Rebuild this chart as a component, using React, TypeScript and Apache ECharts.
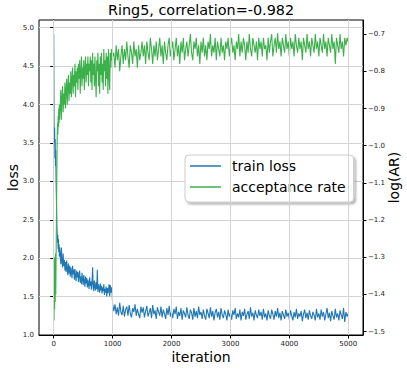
import React, { useEffect, useRef } from "react";
import * as echarts from "echarts";

const iterations = [
  0, 5, 10, 15, 20, 25, 30, 35, 40, 45, 50, 55, 60, 65, 70, 75, 80, 85, 90, 95, 100,
  110, 120, 130, 140, 150, 160, 170, 180, 190, 200,
  210, 220, 230, 240, 250, 260, 270, 280, 290, 300,
  310, 320, 330, 340, 350, 360, 370, 380, 390, 400,
  410, 420, 430, 440, 450, 460, 470, 480, 490, 500,
  510, 520, 530, 540, 550, 560, 570, 580, 590, 600,
  610, 620, 630, 640, 650, 660, 670, 680, 690, 700,
  710, 720, 730, 740, 750, 760, 770, 780, 790, 800,
  810, 820, 830, 840, 850, 860, 870, 880, 890, 900,
  910, 920, 930, 940, 950, 960, 970, 980, 990, 1000,
  1020, 1040, 1060, 1080, 1100, 1120, 1140, 1160, 1180, 1200, 1220, 1240, 1260, 1280, 1300, 1320, 1340, 1360, 1380, 1400, 1420, 1440, 1460, 1480, 1500,
  1520, 1540, 1560, 1580, 1600, 1620, 1640, 1660, 1680, 1700, 1720, 1740, 1760, 1780, 1800, 1820, 1840, 1860, 1880, 1900, 1920, 1940, 1960, 1980, 2000,
  2020, 2040, 2060, 2080, 2100, 2120, 2140, 2160, 2180, 2200, 2220, 2240, 2260, 2280, 2300, 2320, 2340, 2360, 2380, 2400, 2420, 2440, 2460, 2480, 2500,
  2520, 2540, 2560, 2580, 2600, 2620, 2640, 2660, 2680, 2700, 2720, 2740, 2760, 2780, 2800, 2820, 2840, 2860, 2880, 2900, 2920, 2940, 2960, 2980, 3000,
  3020, 3040, 3060, 3080, 3100, 3120, 3140, 3160, 3180, 3200, 3220, 3240, 3260, 3280, 3300, 3320, 3340, 3360, 3380, 3400, 3420, 3440, 3460, 3480, 3500,
  3520, 3540, 3560, 3580, 3600, 3620, 3640, 3660, 3680, 3700, 3720, 3740, 3760, 3780, 3800, 3820, 3840, 3860, 3880, 3900, 3920, 3940, 3960, 3980, 4000,
  4020, 4040, 4060, 4080, 4100, 4120, 4140, 4160, 4180, 4200, 4220, 4240, 4260, 4280, 4300, 4320, 4340, 4360, 4380, 4400, 4420, 4440, 4460, 4480, 4500,
  4520, 4540, 4560, 4580, 4600, 4620, 4640, 4660, 4680, 4700, 4720, 4740, 4760, 4780, 4800, 4820, 4840, 4860, 4880, 4900, 4920, 4940, 4960, 4980, 5000,
];

const trainLoss = [
  4.92, 3.8, 3.5, 3.7, 3.3, 3.55, 3.2, 3.4, 3.0, 2.8, 2.6, 2.4, 2.3, 2.2, 2.3, 2.12, 2.25, 2.08, 2.18, 2.02, 2.14,
  2.05, 1.92, 2.14, 1.96, 1.88, 2.06, 1.9, 1.98, 1.84, 1.95,
  1.82, 1.97, 1.86, 1.78, 1.93, 1.8, 1.9, 1.76, 1.88, 1.82,
  1.74, 1.9, 1.79, 1.85, 1.72, 1.86, 1.77, 1.7, 1.84, 1.75,
  1.82, 1.69, 1.78, 1.84, 1.68, 1.76, 1.66, 1.81, 1.72, 1.65,
  1.78, 1.7, 1.63, 1.76, 1.67, 1.74, 1.62, 1.72, 1.66, 1.6,
  1.75, 1.64, 1.7, 1.59, 1.68, 1.88, 1.62, 1.57, 1.71, 1.63,
  1.58, 1.69, 1.6, 1.85, 1.56, 1.66, 1.61, 1.55, 1.67, 1.58,
  1.64, 1.54, 1.62, 1.57, 1.66, 1.52, 1.6, 1.55, 1.63, 1.5,
  1.61, 1.54, 1.59, 1.66, 1.5, 1.65, 1.55, 1.62, 1.57, 1.4,
  1.31, 1.4, 1.27, 1.36, 1.25, 1.42, 1.3, 1.26, 1.38, 1.24, 1.33, 1.37, 1.25, 1.39, 1.28, 1.23, 1.35, 1.3, 1.4, 1.25, 1.34, 1.27, 1.22, 1.37, 1.29,
  1.36, 1.23, 1.31, 1.38, 1.24, 1.29, 1.35, 1.22, 1.39, 1.27, 1.32, 1.21, 1.36, 1.3, 1.25, 1.37, 1.23, 1.33, 1.28, 1.21, 1.35, 1.26, 1.38, 1.24, 1.3,
  1.22, 1.34, 1.27, 1.37, 1.21, 1.3, 1.25, 1.35, 1.2, 1.32, 1.28, 1.23, 1.36, 1.26, 1.21, 1.33, 1.29, 1.2, 1.35, 1.24, 1.31, 1.22, 1.37, 1.26, 1.3,
  1.21, 1.33, 1.25, 1.2, 1.34, 1.28, 1.22, 1.36, 1.24, 1.31, 1.19, 1.29, 1.34, 1.23, 1.3, 1.2, 1.35, 1.26, 1.22, 1.32, 1.27, 1.19, 1.33, 1.24, 1.29,
  1.2, 1.32, 1.26, 1.35, 1.21, 1.28, 1.23, 1.33, 1.19, 1.3, 1.25, 1.34, 1.2, 1.27, 1.31, 1.21, 1.36, 1.24, 1.29, 1.19, 1.32, 1.26, 1.22, 1.33, 1.25,
  1.3, 1.2, 1.34, 1.23, 1.28, 1.19, 1.32, 1.25, 1.21, 1.33, 1.27, 1.2, 1.31, 1.24, 1.35, 1.22, 1.29, 1.19, 1.31, 1.26, 1.21, 1.33, 1.24, 1.29, 1.2,
  1.32, 1.25, 1.19, 1.3, 1.23, 1.34, 1.21, 1.28, 1.24, 1.31, 1.18, 1.27, 1.33, 1.22, 1.29, 1.2, 1.32, 1.25, 1.21, 1.3, 1.26, 1.19, 1.34, 1.23, 1.28,
  1.2, 1.33, 1.24, 1.3, 1.19, 1.27, 1.35, 1.22, 1.29, 1.18, 1.31, 1.25, 1.2, 1.34, 1.23, 1.28, 1.19, 1.32, 1.26, 1.21, 1.35, 1.17, 1.3, 1.24, 1.28,
];

const logAcceptance = [
  -1.36, -1.47, -1.3, -1.44, -1.32, -1.42, -1.29, -1.4, -1.3, -1.22, -1.12, -1.04, -0.97, -0.94, -0.97, -0.92, -0.95, -0.9, -0.94, -0.89, -0.93,
  -0.9, -0.85, -0.93, -0.87, -0.84, -0.91, -0.86, -0.89, -0.83, -0.9,
  -0.85, -0.82, -0.89, -0.84, -0.81, -0.88, -0.83, -0.86, -0.8, -0.87,
  -0.82, -0.79, -0.86, -0.81, -0.84, -0.78, -0.87, -0.8, -0.83, -0.79,
  -0.85, -0.78, -0.82, -0.77, -0.86, -0.8, -0.76, -0.84, -0.79, -0.82,
  -0.77, -0.85, -0.79, -0.76, -0.83, -0.78, -0.81, -0.76, -0.84, -0.78,
  -0.8, -0.76, -0.83, -0.77, -0.85, -0.75, -0.81, -0.78, -0.84, -0.76,
  -0.82, -0.87, -0.77, -0.8, -0.75, -0.84, -0.78, -0.86, -0.76, -0.81,
  -0.75, -0.83, -0.78, -0.85, -0.74, -0.8, -0.77, -0.84, -0.75, -0.82,
  -0.76, -0.86, -0.74, -0.81, -0.85, -0.75, -0.79, -0.74, -0.77, -0.76,
  -0.75, -0.79, -0.73, -0.77, -0.74, -0.8, -0.76, -0.73, -0.78, -0.74, -0.77, -0.72, -0.76, -0.79, -0.73, -0.75, -0.78, -0.72, -0.76, -0.74, -0.79, -0.73, -0.77, -0.75, -0.72,
  -0.76, -0.73, -0.78, -0.72, -0.75, -0.77, -0.71, -0.74, -0.78, -0.73, -0.76, -0.72, -0.77, -0.74, -0.71, -0.76, -0.73, -0.78, -0.72, -0.75, -0.77, -0.73, -0.71, -0.76, -0.74,
  -0.72, -0.77, -0.74, -0.71, -0.76, -0.73, -0.78, -0.72, -0.75, -0.71, -0.77, -0.74, -0.72, -0.76, -0.73, -0.7, -0.75, -0.77, -0.72, -0.74, -0.71, -0.76, -0.73, -0.78, -0.72,
  -0.75, -0.71, -0.76, -0.73, -0.77, -0.72, -0.74, -0.7, -0.76, -0.73, -0.75, -0.71, -0.77, -0.72, -0.74, -0.76, -0.71, -0.75, -0.73, -0.77, -0.72, -0.74, -0.71, -0.76, -0.73,
  -0.71, -0.75, -0.73, -0.77, -0.72, -0.74, -0.7, -0.76, -0.72, -0.75, -0.71, -0.73, -0.77, -0.72, -0.75, -0.7, -0.74, -0.76, -0.71, -0.73, -0.75, -0.72, -0.77, -0.71, -0.74,
  -0.72, -0.76, -0.71, -0.74, -0.73, -0.77, -0.71, -0.75, -0.72, -0.7, -0.76, -0.73, -0.71, -0.75, -0.698, -0.74, -0.72, -0.76, -0.71, -0.73, -0.75, -0.7, -0.74, -0.72, -0.76,
  -0.71, -0.74, -0.72, -0.76, -0.7, -0.73, -0.75, -0.71, -0.74, -0.72, -0.77, -0.71, -0.73, -0.75, -0.7, -0.74, -0.72, -0.76, -0.71, -0.73, -0.75, -0.7, -0.74, -0.72, -0.76,
  -0.71, -0.73, -0.75, -0.7, -0.74, -0.72, -0.76, -0.71, -0.73, -0.75, -0.7, -0.74, -0.72, -0.78, -0.71, -0.73, -0.75, -0.7, -0.74, -0.72, -0.76, -0.71, -0.73, -0.71, -0.72,
];

const xTicks = [0, 1000, 2000, 3000, 4000, 5000];
const lossTicks = [1.0, 1.5, 2.0, 2.5, 3.0, 3.5, 4.0, 4.5, 5.0];
const arTicks = [-1.5, -1.4, -1.3, -1.2, -1.1, -1.0, -0.9, -0.8, -0.7];

const BLUE = "#1f77b4";
const GREEN = "#3cb04b";
const FONT = "DejaVu Sans";

export default function App() {
  const ref = useRef<HTMLDivElement>(null);
  useEffect(() => {
    if (!ref.current) return;
    const chart = echarts.init(ref.current, null, { renderer: "svg" });
    const lossData = iterations.map((it, i) => [it, trainLoss[i]]);
    const arData = iterations.map((it, i) => [it, logAcceptance[i]]);
    const tickLabel = { fontFamily: FONT, fontSize: 7, color: "#222" };
    const nameStyle = { fontFamily: FONT, fontSize: 14, color: "#000" };
    chart.setOption({
      animation: false,
      title: {
        text: "Ring5, correlation=-0.982",
        left: 201,
        top: 3,
        padding: 0,
        textAlign: "center",
        textStyle: { fontFamily: FONT, fontSize: 14.4, fontWeight: "normal", color: "#000" },
      },
      legend: {
        orient: "vertical",
        left: 185,
        top: 155,
        padding: [4, 8, 8, 5],
        itemGap: 7,
        itemWidth: 31,
        itemHeight: 1.5,
        icon: "rect",
        data: ["train loss", "acceptance rate"],
        textStyle: { fontFamily: FONT, fontSize: 14, color: "#000", padding: [0, 0, 0, 6] },
        backgroundColor: "#fff",
        borderColor: "#cccccc",
        borderWidth: 1,
        borderRadius: 4,
        shadowColor: "rgba(0,0,0,0.3)",
        shadowOffsetX: 2,
        shadowOffsetY: 2,
        shadowBlur: 2,
      },
      grid: {
        left: 39,
        right: 44,
        top: 20,
        bottom: 35,
        containLabel: false,
        outerBoundsMode: "none",
        show: true,
        borderColor: "#000",
        borderWidth: 1,
        backgroundColor: "transparent",
      },
      xAxis: {
        type: "value",
        min: -250,
        max: 5250,
        name: "iteration",
        nameLocation: "middle",
        nameGap: 15,
        nameMoveOverlap: false,
        nameTextStyle: nameStyle,
        axisLine: { lineStyle: { color: "#000", width: 1 } },
        axisTick: { customValues: xTicks, length: 3.5, lineStyle: { color: "#000" } },
        axisLabel: { ...tickLabel, customValues: xTicks, margin: 5, formatter: (v: number) => String(v) },
        splitLine: { show: false },
      },
      yAxis: [
        {
          type: "value",
          min: 1.0,
          max: 5.1,
          interval: 0.5,
          position: "left",
          name: "loss",
          nameLocation: "middle",
          nameRotate: 90,
          nameGap: 19,
          nameMoveOverlap: false,
          nameTextStyle: nameStyle,
          axisLine: { show: true, lineStyle: { color: "#000", width: 1 } },
          axisTick: { show: true, customValues: lossTicks, length: 3.5, lineStyle: { color: "#000" } },
          axisLabel: { ...tickLabel, customValues: lossTicks, margin: 5, formatter: (v: number) => v.toFixed(1) },
          splitLine: { show: true, lineStyle: { color: "#d3d3d3", width: 1 } },
        },
        {
          type: "value",
          min: -1.509,
          max: -0.662,
          position: "right",
          name: "log(AR)",
          nameLocation: "middle",
          nameRotate: 90,
          nameGap: 24,
          nameMoveOverlap: false,
          nameTextStyle: nameStyle,
          axisLine: { show: true, lineStyle: { color: "#000", width: 1 } },
          axisTick: { show: true, customValues: arTicks, length: 3.5, lineStyle: { color: "#000" } },
          axisLabel: {
            ...tickLabel,
            customValues: arTicks,
            margin: 5,
            formatter: (v: number) => v.toFixed(1).replace("-", "\u2212"),
          },
          splitLine: { show: false },
        },
      ],
      series: [
        {
          name: "grid",
          type: "line",
          xAxisIndex: 0,
          yAxisIndex: 0,
          data: [],
          z: 1,
          silent: true,
          markLine: {
            silent: true,
            symbol: ["none", "none"],
            label: { show: false },
            lineStyle: { color: "#d3d3d3", width: 1, type: "solid" },
            data: xTicks.map((v) => ({ xAxis: v })),
          },
        },
        {
          name: "train loss",
          type: "line",
          xAxisIndex: 0,
          yAxisIndex: 0,
          data: lossData,
          symbol: "none",
          showSymbol: false,
          z: 2,
          color: BLUE,
          lineStyle: { color: BLUE, width: 1.1 },
        },
        {
          name: "acceptance rate",
          type: "line",
          xAxisIndex: 0,
          yAxisIndex: 1,
          data: arData,
          symbol: "none",
          showSymbol: false,
          z: 3,
          color: GREEN,
          lineStyle: { color: GREEN, width: 1.1 },
        },
      ],
    });
    return () => chart.dispose();
  }, []);
  return (
    <div
      ref={ref}
      style={{ position: "fixed", left: 0, top: 0, width: 407, height: 370, background: "#fff" }}
    />
  );
}
